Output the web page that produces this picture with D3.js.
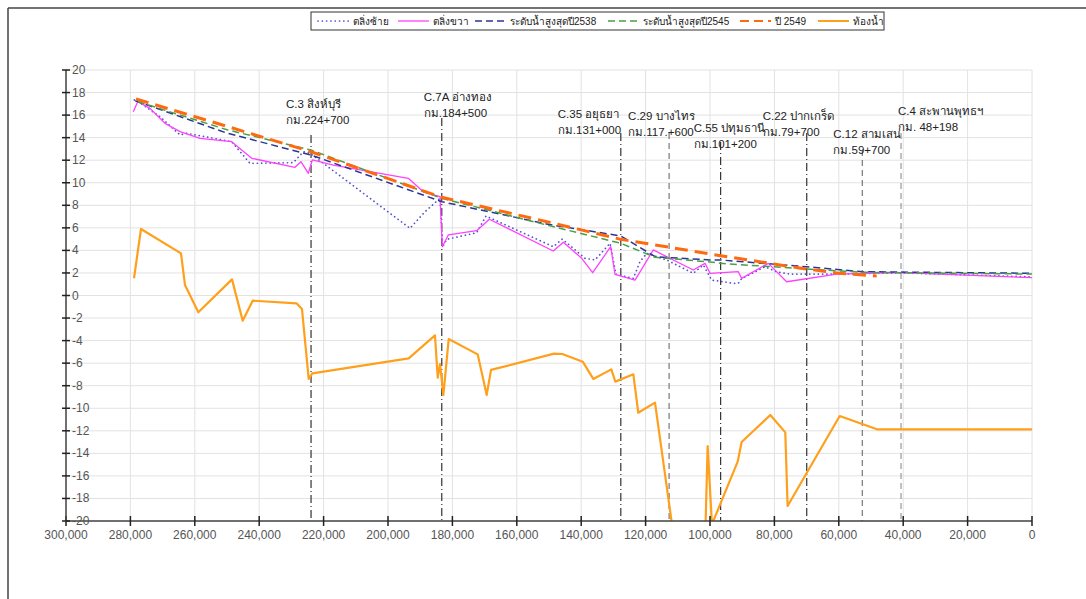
<!DOCTYPE html>
<html>
<head>
<meta charset="utf-8">
<script src="https://cdn.jsdelivr.net/npm/d3@7"></script>
<style>
  body { margin: 0; background: #fff; }
  text { font-family: "Liberation Sans", "DejaVu Sans", "Noto Sans", sans-serif; }
</style>
</head>
<body>
<div id="chart"></div>
<script>
// chainage (m) and level (m MSL)
var leftBank = [[278790,17.34],[277550,17.19],[270810,15.86],[264600,14.24],[262520,14.39],[248540,13.64],[242860,11.72],[229400,11.78],[226300,12.75],[224220,12.61],[193170,5.96],[188500,7.43],[183850,8.62],[183000,4.33],[181770,4.98],[172460,5.57],[169560,7.05],[148670,4.33],[145870,5.01],[138820,3.3],[135710,3.15],[131050,4.63],[129190,1.88],[123800,1.52],[121740,3.0],[119660,3.74],[113450,3.15],[105190,1.97],[102080,2.71],[99490,1.37],[92760,1.08],[91210,1.08],[90170,1.5],[82920,2.55],[79300,2.1],[75150,1.9],[60660,1.9],[40990,2.0],[0,1.65]];
var rightBank = [[279100,16.3],[277740,17.19],[273910,16.6],[269250,15.27],[264600,14.53],[258380,13.94],[248540,13.64],[242330,12.17],[228880,11.37],[227020,11.87],[224740,10.84],[223500,12.02],[216980,11.57],[193690,10.39],[189030,9.2],[183850,8.76],[183130,4.33],[181270,5.37],[172460,5.75],[168540,6.76],[148670,3.95],[145560,4.72],[139840,3.3],[136430,2.02],[130840,4.33],[129500,1.88],[123290,1.37],[117610,4.04],[105190,2.26],[101550,2.85],[99990,1.97],[91210,2.11],[90170,1.52],[81890,2.85],[76190,1.22],[60660,1.9],[40990,2.02],[0,1.58]];
var flood2538 = [[278500,17.28],[250000,14.4],[223900,12.46],[183300,8.32],[150000,6.3],[127700,5.28],[117000,3.44],[100000,3.15],[96700,3.15],[70000,2.55],[52700,2.11],[0,1.97]];
var flood2545 = [[277700,17.19],[250000,14.7],[223900,12.9],[183300,8.62],[150000,6.2],[127700,4.63],[117000,3.39],[98000,2.92],[96700,2.85],[70000,2.35],[52700,2.06],[0,1.9]];
var flood2549 = [[278260,17.43],[250000,15.0],[223900,12.75],[183300,8.71],[150000,6.5],[127700,4.98],[96700,3.53],[70000,2.35],[60000,1.97],[48240,1.73]];
var riverBed = [[278880,1.53],[276710,5.9],[264290,3.74],[263040,0.93],[258910,-1.49],[248450,1.43],[245130,-2.23],[242020,-0.46],[228350,-0.7],[226710,-1.2],[224630,-7.4],[223500,-6.9],[193570,-5.57],[185410,-3.53],[184560,-7.29],[183850,-6.08],[182800,-8.82],[181150,-3.86],[172150,-5.22],[169350,-8.82],[168000,-6.6],[148450,-5.16],[145870,-5.19],[139530,-5.87],[136240,-7.4],[130650,-6.55],[129400,-7.64],[123800,-6.99],[122280,-10.4],[117080,-9.5],[110000,-24],[102000,-27],[100730,-13.35],[99400,-20.3],[91400,-14.74],[90170,-13.0],[81270,-10.6],[76620,-12.14],[75900,-18.67],[59720,-10.69],[48140,-11.87],[0,-11.87]];

var stationX = [223900, 183300, 127700, 112700, 96700, 69960, 52700, 40680];
var stationName = ["C.3 สิงห์บุรี", "C.7A อ่างทอง", "C.35 อยุธยา", "C.29 บางไทร", "C.55 ปทุมธานี", "C.22 ปากเกร็ด", "C.12 สามเสน", "C.4 สะพานพุทธฯ"];
var stationKm = ["กม.224+700", "กม.184+500", "กม.131+000", "กม.117.+600", "กม.101+200", "กม.79+700", "กม.59+700", "กม. 48+198"];

var legendNames = ["ตลิ่งซ้าย", "ตลิ่งขวา", "ระดับน้ำสูงสุดปี2538", "ระดับน้ำสูงสุดปี2545", "ปี 2549", "ท้องน้ำ"];
var xTicks = [300000, 280000, 260000, 240000, 220000, 200000, 180000, 160000, 140000, 120000, 100000, 80000, 60000, 40000, 20000, 0];
var yTicks = [20, 18, 16, 14, 12, 10, 8, 6, 4, 2, 0, -2, -4, -6, -8, -10, -12, -14, -16, -18, -20];

// layout
var W = 1086, H = 599;
var margin = {top: 70, right: 54, bottom: 78, left: 66},
    width = W - margin.left - margin.right,
    height = H - margin.top - margin.bottom;

var styles = [
  {data: riverBed,  stroke: "#ffa01c", width: 2.2, dash: null},
  {data: leftBank,  stroke: "#5050d0", width: 1.7, dash: "0.1,4.2", cap: "round"},
  {data: rightBank, stroke: "#ff40ff", width: 1.3, dash: null},
  {data: flood2538, stroke: "#2c3494", width: 1.5, dash: "7,4"},
  {data: flood2545, stroke: "#46a046", width: 1.5, dash: "7,4"},
  {data: flood2549, stroke: "#ff6a10", width: 3, dash: "13,7"}
];
var legendOrder = [1, 2, 3, 4, 5, 0];

// station label offsets: [dx from line, first baseline, line top]
var stationLayout = [[-25,108,135],[-18,101,118],[-63,118,133],[-41,120,133],[-27,132,142],[-44,120,133],[-29,138,150],[-3,115,133]];
var stationDash = ["8,3,1,3","8,3,1,3","8,3,1,3","6,4","8,3,1,3","8,3,1,3","6,4","6,4"];
var stationColor = ["#333","#333","#333","#777","#333","#333","#777","#999"];

var svg = d3.select("#chart").append("svg")
  .attr("width", W).attr("height", H);

// outer frame
svg.append("line").attr("x1", 8).attr("x2", W).attr("y1", 8).attr("y2", 8)
  .attr("stroke", "#444").attr("stroke-width", 1.5);
svg.append("line").attr("x1", 8).attr("x2", 8).attr("y1", 8).attr("y2", H)
  .attr("stroke", "#444").attr("stroke-width", 1.5);

var g = svg.append("g")
  .attr("transform", "translate(" + margin.left + "," + margin.top + ")");

var x = d3.scaleLinear().domain([300000, 0]).range([0, width]);
var y = d3.scaleLinear().domain([-20, 20]).range([height, 0]);

// grid
g.append("g").selectAll("line").data(xTicks).enter().append("line")
  .attr("x1", function(d) { return x(d); }).attr("x2", function(d) { return x(d); })
  .attr("y1", 0).attr("y2", height)
  .attr("stroke", "#e2e2e2").attr("stroke-width", 1);
g.append("g").selectAll("line").data(yTicks).enter().append("line")
  .attr("x1", 0).attr("x2", width)
  .attr("y1", function(d) { return y(d); }).attr("y2", function(d) { return y(d); })
  .attr("stroke", "#e2e2e2").attr("stroke-width", 1);

// station markers
stationX.forEach(function(s, i) {
  var lx = x(s), lay = stationLayout[i];
  g.append("line")
    .attr("x1", lx).attr("x2", lx)
    .attr("y1", lay[2] - margin.top).attr("y2", height)
    .attr("stroke", stationColor[i]).attr("stroke-width", 1.2)
    .attr("stroke-dasharray", stationDash[i]);
  g.append("text")
    .attr("x", lx + lay[0]).attr("y", lay[1] - margin.top)
    .style("font-size", "11.5px").attr("fill", "#222")
    .text(stationName[i]);
  g.append("text")
    .attr("x", lx + lay[0]).attr("y", lay[1] + 16 - margin.top)
    .style("font-size", "11.5px").attr("fill", "#222")
    .text(stationKm[i]);
});

// series
g.append("clipPath").attr("id", "clip")
  .append("rect").attr("x", 0).attr("y", 0).attr("width", width).attr("height", height);

var line = d3.line()
  .x(function(d) { return x(d[0]); })
  .y(function(d) { return y(d[1]); });

styles.forEach(function(s) {
  g.append("path")
    .datum(s.data)
    .attr("clip-path", "url(#clip)")
    .attr("fill", "none")
    .attr("stroke", s.stroke)
    .attr("stroke-width", s.width)
    .attr("stroke-dasharray", s.dash)
    .attr("stroke-linecap", s.cap || "butt")
    .attr("stroke-linejoin", "round")
    .attr("d", line);
});

// axes
var xAxis = g.append("g").attr("transform", "translate(0," + height + ")");
xAxis.append("line").attr("x1", 0).attr("x2", width).attr("stroke", "#444").attr("stroke-width", 1.5);
xAxis.selectAll(".tk").data(xTicks).enter().append("line")
  .attr("x1", function(d) { return x(d); }).attr("x2", function(d) { return x(d); })
  .attr("y1", -5).attr("y2", 5).attr("stroke", "#222").attr("stroke-width", 1.5);
xAxis.selectAll("text").data(xTicks).enter().append("text")
  .attr("x", function(d) { return x(d); }).attr("y", 18)
  .attr("text-anchor", "middle").style("font-size", "12px").attr("fill", "#555")
  .text(d3.format(","));

var yAxis = g.append("g");
yAxis.append("line").attr("y1", 0).attr("y2", height).attr("stroke", "#444").attr("stroke-width", 1.5);
yAxis.selectAll(".tk").data(yTicks).enter().append("line")
  .attr("y1", function(d) { return y(d); }).attr("y2", function(d) { return y(d); })
  .attr("x1", -4).attr("x2", 4).attr("stroke", "#222").attr("stroke-width", 1.5);
yAxis.selectAll("text").data(yTicks).enter().append("text")
  .attr("x", 6).attr("y", function(d) { return y(d) + 4; })
  .style("font-size", "12px").attr("fill", "#555")
  .text(function(d) { return d; });

// legend
var leg = svg.append("g");
leg.append("rect").attr("x", 311).attr("y", 12).attr("width", 573).attr("height", 18)
  .attr("fill", "#fff").attr("stroke", "#333").attr("stroke-width", 1);
var legX = [318, 398, 475, 608, 740, 818];
legendOrder.forEach(function(si, i) {
  var s = styles[si];
  leg.append("line")
    .attr("x1", legX[i]).attr("x2", legX[i] + 31).attr("y1", 21).attr("y2", 21)
    .attr("stroke", s.stroke).attr("stroke-width", Math.min(s.width, 2))
    .attr("stroke-dasharray", si === 5 ? "9,5" : s.dash)
    .attr("stroke-linecap", s.cap || "butt");
  leg.append("text")
    .attr("x", legX[i] + 35).attr("y", 25)
    .style("font-size", "10px").attr("fill", "#222")
    .text(legendNames[i]);
});
</script>
</body>
</html>
